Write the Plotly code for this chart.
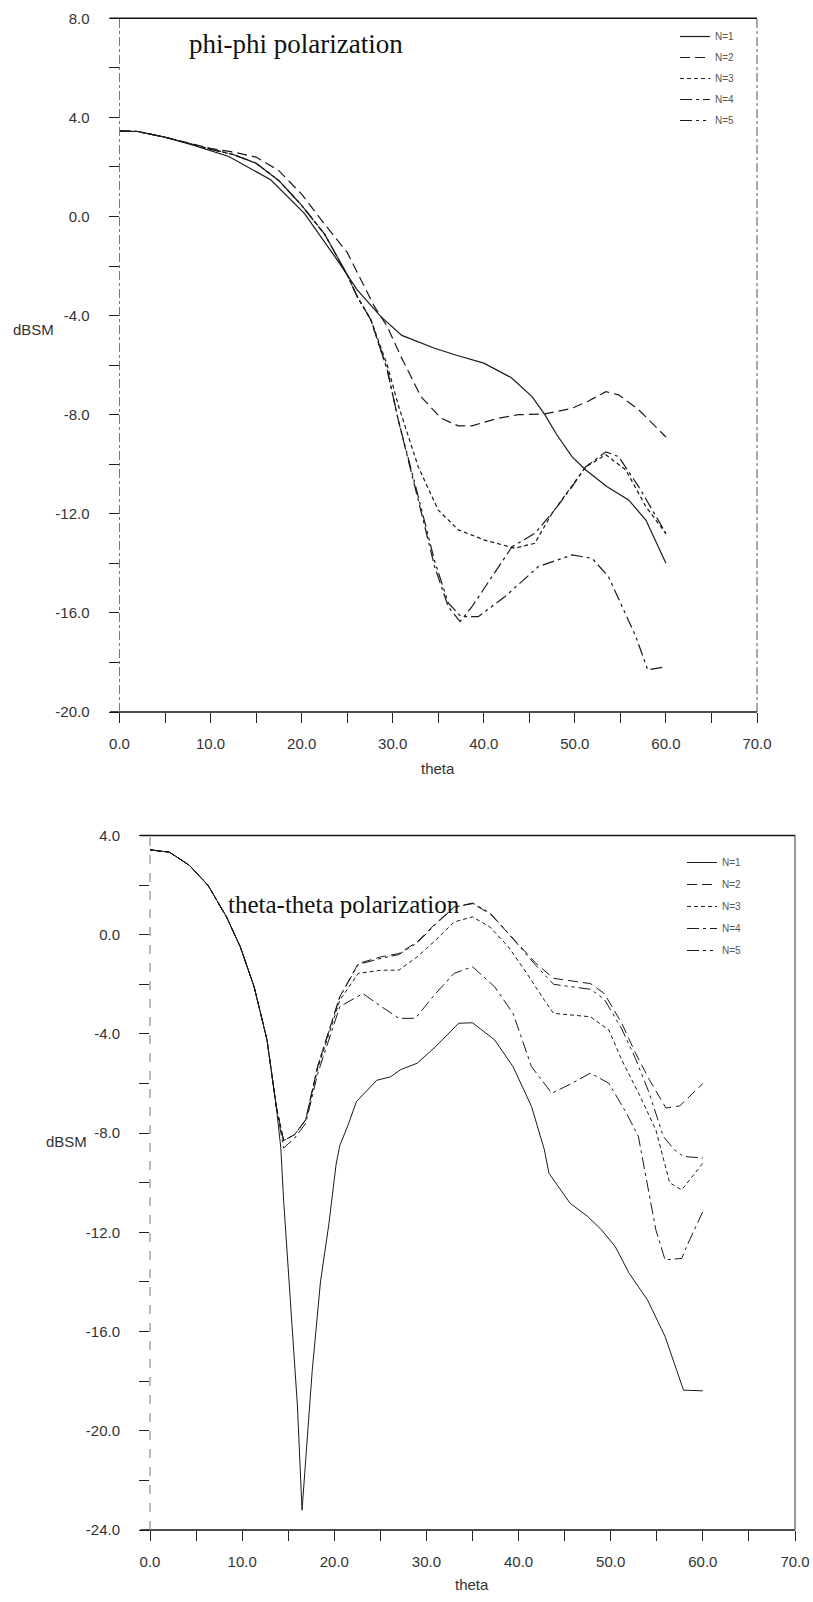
import plotly.graph_objects as go

# ---------------- data: phi-phi polarization (top) ----------------
top_n1_theta = [0, 2, 5, 8, 12, 16.6, 20.3, 23.9, 26.1, 28.7, 31, 34.6, 37, 40, 43, 45.3, 46.7, 48, 49.7, 51.2, 53.5, 55.9, 57.8, 60]
top_n1_val = [3.45, 3.43, 3.2, 2.89, 2.42, 1.48, 0.13, -1.75, -2.96, -4.04, -4.8, -5.32, -5.6, -5.92, -6.5, -7.27, -8.0, -8.8, -9.7, -10.23, -10.9, -11.44, -12.25, -14.0]

top_n2_theta = [0, 2, 5, 8, 10, 12.5, 15, 17.5, 20, 22.5, 25, 28, 29.4, 30.9, 33.1, 35.3, 37.2, 38.7, 41.6, 43.8, 46.7, 49.7, 51.5, 53.4, 54.8, 57, 60]
top_n2_val = [3.45, 3.43, 3.2, 2.92, 2.75, 2.6, 2.4, 1.85, 0.9, -0.3, -1.45, -3.64, -4.44, -5.65, -7.27, -8.14, -8.45, -8.45, -8.14, -8.0, -7.97, -7.74, -7.45, -7.07, -7.2, -7.8, -8.9]

top_n3_theta = [0, 2, 5, 8, 10, 12.5, 15, 17.5, 20, 22.5, 25, 26.1, 27.6, 29.4, 30.6, 32.8, 35, 37.2, 40.1, 43.4, 45.6, 47.5, 49.3, 51.2, 53.4, 55.6, 57.8, 60]
top_n3_val = [3.45, 3.43, 3.2, 2.9, 2.72, 2.5, 2.15, 1.45, 0.45, -0.7, -2.35, -3.23, -4.17, -6.0, -7.6, -10.1, -11.85, -12.65, -13.06, -13.39, -13.19, -11.98, -11.04, -10.1, -9.62, -10.23, -11.71, -12.8]

top_n4_theta = [0, 2, 5, 8, 10, 12.5, 15, 17.5, 20, 22.5, 25, 26.1, 27.6, 29.4, 30.6, 32.8, 34.6, 36.1, 37.4, 38.7, 40.9, 43.1, 45.6, 47.8, 49.7, 51.2, 53.4, 54.8, 57, 60]
top_n4_val = [3.45, 3.43, 3.2, 2.9, 2.72, 2.5, 2.15, 1.45, 0.45, -0.7, -2.35, -3.23, -4.17, -6.19, -8.2, -11.44, -14.13, -15.75, -16.35, -15.75, -14.54, -13.33, -12.79, -11.84, -10.9, -10.1, -9.5, -9.69, -10.9, -12.79]

top_n5_theta = [0, 2, 5, 8, 10, 12.5, 15, 17.5, 20, 22.5, 25, 26.1, 27.6, 29.4, 30.6, 32.8, 34.6, 36.1, 37.5, 39.4, 42.3, 46, 49.7, 51.9, 53.7, 55.2, 56.7, 58, 60]
top_n5_val = [3.45, 3.43, 3.2, 2.9, 2.72, 2.5, 2.15, 1.45, 0.45, -0.7, -2.35, -3.23, -4.17, -6.19, -8.2, -11.3, -13.9, -15.6, -16.15, -16.15, -15.35, -14.13, -13.66, -13.8, -14.54, -15.75, -16.96, -18.3, -18.17]

# ---------------- data: theta-theta polarization (bottom) ----------------
bot_n1_theta = [0, 2.1, 4.3, 6.3, 8.3, 9.8, 11.3, 12.7, 13.7, 14.2, 14.5, 15.2, 16.0, 16.5, 16.9, 17.6, 18.5, 19.4, 20.2, 20.6, 21.5, 22.4, 24.6, 26.1, 27.2, 29, 31, 33.5, 35, 37.4, 39.4, 41.4, 42.8, 43.3, 45.6, 47.5, 49, 50.5, 52, 54, 55.9, 57.9, 60]
bot_n1_val = [3.42, 3.33, 2.79, 1.99, 0.72, -0.49, -2.1, -4.24, -6.92, -8.6, -10.7, -14.7, -19.0, -23.2, -21.2, -17.6, -14.0, -11.7, -9.25, -8.5, -7.67, -6.73, -5.87, -5.73, -5.44, -5.18, -4.51, -3.57, -3.55, -4.24, -5.32, -6.92, -8.67, -9.62, -10.83, -11.36, -11.9, -12.58, -13.65, -14.73, -16.2, -18.36, -18.39]

bot_n2_theta = [0, 2.1, 4.3, 6.3, 8.3, 9.8, 11.3, 12.7, 13.7, 14.5, 15.7, 16.9, 18.2, 20.6, 22.6, 25.1, 27, 29, 31, 33, 35, 36.9, 38.9, 40.9, 41.9, 43.8, 47.8, 49.3, 51.2, 52.7, 54.2, 56, 57.5, 60]
bot_n2_val = [3.42, 3.33, 2.79, 1.99, 0.72, -0.49, -2.1, -4.24, -6.92, -8.3, -8.06, -7.46, -5.3, -2.5, -1.16, -0.89, -0.76, -0.29, 0.45, 1.12, 1.25, 0.85, 0.05, -0.76, -1.16, -1.76, -1.97, -2.37, -3.57, -4.78, -5.85, -6.99, -6.9, -6.0]

bot_n3_theta = [0, 2.1, 4.3, 6.3, 8.3, 9.8, 11.3, 12.7, 13.7, 14.5, 15.7, 16.9, 18.2, 20.6, 22.6, 25.1, 27, 29, 31, 33, 35, 36.9, 38.9, 40.9, 42.8, 43.8, 47.8, 49.8, 51.2, 53.2, 54.9, 56.4, 57.7, 60]
bot_n3_val = [3.42, 3.33, 2.79, 1.99, 0.72, -0.49, -2.1, -4.24, -6.92, -8.3, -8.06, -7.46, -5.4, -2.64, -1.56, -1.43, -1.43, -0.89, -0.22, 0.51, 0.72, 0.31, -0.49, -1.56, -2.64, -3.17, -3.31, -3.84, -5.05, -6.52, -7.87, -10.0, -10.29, -9.21]

bot_n4_theta = [0, 2.1, 4.3, 6.3, 8.3, 9.8, 11.3, 12.7, 13.7, 14.5, 15.7, 16.9, 18.2, 20.6, 23.1, 24.6, 27, 28.8, 31, 33, 35, 37.4, 39.4, 41.4, 43.6, 45.8, 47.8, 49.8, 51.7, 53, 54.9, 55.9, 57.7, 58.4, 60]
bot_n4_val = [3.42, 3.33, 2.79, 1.99, 0.72, -0.49, -2.1, -4.24, -6.92, -8.6, -8.2, -7.6, -5.6, -2.9, -2.37, -2.77, -3.37, -3.37, -2.37, -1.56, -1.29, -2.1, -3.17, -5.32, -6.39, -5.99, -5.58, -5.99, -7.19, -8.13, -11.9, -13.11, -13.05, -12.44, -11.16]

bot_n5_theta = [0, 2.1, 4.3, 6.3, 8.3, 9.8, 11.3, 12.7, 13.7, 14.5, 15.7, 16.9, 18.2, 20.6, 22.6, 25.1, 27, 29, 31, 33, 35, 36.9, 38.9, 40.9, 41.9, 43.8, 47.8, 49.3, 51.2, 52.7, 54.2, 55.7, 56.9, 57.9, 60]
bot_n5_val = [3.42, 3.33, 2.79, 1.99, 0.72, -0.49, -2.1, -4.24, -6.92, -8.3, -8.06, -7.46, -5.3, -2.5, -1.2, -0.95, -0.8, -0.33, 0.42, 1.1, 1.28, 0.88, 0.05, -0.8, -1.25, -2.0, -2.2, -2.6, -3.8, -5.0, -6.4, -8.13, -8.67, -8.94, -9.0]

series_names = ["N=1", "N=2", "N=3", "N=4", "N=5"]
x_ticks = [0, 5, 10, 15, 20, 25, 30, 35, 40, 45, 50, 55, 60, 65, 70]
top_y_ticks = [8, 6, 4, 2, 0, -2, -4, -6, -8, -10, -12, -14, -16, -18, -20]
bot_y_ticks = [4, 2, 0, -2, -4, -6, -8, -10, -12, -14, -16, -18, -20, -22, -24]

dashes = ["solid", "10px,5px", "4px,3px", "12px,4px,3px,4px", "12px,4px,3px,4px,3px,4px"]
line_color = "#1a1a1a"

top_sets = [(top_n1_theta, top_n1_val), (top_n2_theta, top_n2_val), (top_n3_theta, top_n3_val),
            (top_n4_theta, top_n4_val), (top_n5_theta, top_n5_val)]
bot_sets = [(bot_n1_theta, bot_n1_val), (bot_n2_theta, bot_n2_val), (bot_n3_theta, bot_n3_val),
            (bot_n4_theta, bot_n4_val), (bot_n5_theta, bot_n5_val)]

fig = go.Figure()
for i, (tx, ty) in enumerate(top_sets):
    fig.add_trace(go.Scatter(x=tx, y=ty, mode="lines", name=series_names[i],
                             line=dict(color=line_color, width=1.2, dash=dashes[i]),
                             xaxis="x", yaxis="y", legend="legend", legendgroup="t%d" % i))
for i, (tx, ty) in enumerate(bot_sets):
    fig.add_trace(go.Scatter(x=tx, y=ty, mode="lines", name=series_names[i],
                             line=dict(color=line_color, width=1.0, dash=dashes[i]),
                             xaxis="x2", yaxis="y2", legend="legend2", legendgroup="b%d" % i))

W, H = 813, 1602
top_px = dict(x0=119.5, x1=757, y0=18.3, y1=712)
bot_px = dict(x0=150, x1=795, y0=835.5, y1=1530)

def xdom(p):
    return [p["x0"] / W, p["x1"] / W]

def ydom(p):
    return [1 - p["y1"] / H, 1 - p["y0"] / H]

tick_font = dict(family="Liberation Sans, Arial, sans-serif", size=15, color="#333333")

def fmt_labels(vals, step):
    return [("%.1f" % v) if (v % step == 0) else "" for v in vals]

common_axis = dict(showgrid=False, zeroline=False, showline=False, ticks="outside",
                   ticklen=10, tickwidth=1, tickcolor="#222", tickfont=tick_font,
                   automargin=False, fixedrange=True, ticklabeloverflow="allow")

fig.update_layout(
    width=W, height=H, margin=dict(l=0, r=0, t=0, b=0),
    paper_bgcolor="white", plot_bgcolor="white", showlegend=True,
    xaxis=dict(domain=xdom(top_px), anchor="y", range=[0, 70], tickmode="array",
               tickvals=x_ticks, ticktext=fmt_labels(x_ticks, 10), ticklabelstandoff=8, **common_axis),
    yaxis=dict(domain=ydom(top_px), anchor="x", range=[-20, 8], tickmode="array",
               tickvals=top_y_ticks, ticktext=fmt_labels(top_y_ticks, 4), ticklabelstandoff=16, **common_axis),
    xaxis2=dict(domain=xdom(bot_px), anchor="y2", range=[0, 70], tickmode="array",
                tickvals=x_ticks, ticktext=fmt_labels(x_ticks, 10), ticklabelstandoff=8, **common_axis),
    yaxis2=dict(domain=ydom(bot_px), anchor="x2", range=[-24, 4], tickmode="array",
                tickvals=bot_y_ticks, ticktext=fmt_labels(bot_y_ticks, 4), ticklabelstandoff=16, **common_axis),
    legend=dict(x=675 / W, y=1 - 22 / H, xanchor="left", yanchor="top", bgcolor="rgba(0,0,0,0)",
                font=dict(family="Liberation Sans, Arial, sans-serif", size=10, color="#555"),
                tracegroupgap=2, itemwidth=30),
    legend2=dict(x=682 / W, y=1 - 848 / H, xanchor="left", yanchor="top", bgcolor="rgba(0,0,0,0)",
                 font=dict(family="Liberation Sans, Arial, sans-serif", size=10, color="#555"),
                 tracegroupgap=3, itemwidth=30),
)

shapes = []
def frame(xr, yr, left_dash, right_dash, right_color):
    d = "%s domain" % xr
    e = "%s domain" % yr
    shapes.append(dict(type="line", xref=d, yref=e, x0=-0.015, x1=1, y0=1, y1=1,
                       line=dict(color="#111", width=1.6)))
    shapes.append(dict(type="line", xref=d, yref=e, x0=-0.015, x1=1, y0=0, y1=0,
                       line=dict(color="#111", width=1.6)))
    shapes.append(dict(type="line", xref=d, yref=e, x0=0, x1=0, y0=0, y1=1,
                       line=dict(color="#777", width=1, dash=left_dash)))
    shapes.append(dict(type="line", xref=d, yref=e, x0=1, x1=1, y0=0, y1=1,
                       line=dict(color=right_color, width=1, dash=right_dash)))

frame("x", "y", "dashdot", "dashdot", "#555")
frame("x2", "y2", "dash", "solid", "#333")
fig.update_layout(shapes=shapes)

label_font = dict(family="Liberation Sans, Arial, sans-serif", size=15, color="#333")
annotations = [
    dict(text="phi-phi polarization", xref="paper", yref="paper", x=296 / W, y=1 - 44 / H,
         xanchor="center", yanchor="middle", showarrow=False,
         font=dict(family="Liberation Serif, Times New Roman, serif", size=27, color="#111")),
    dict(text="theta-theta polarization", xref="paper", yref="paper", x=344 / W, y=1 - 904 / H,
         xanchor="center", yanchor="middle", showarrow=False,
         font=dict(family="Liberation Serif, Times New Roman, serif", size=25, color="#111")),
    dict(text="dBSM", xref="paper", yref="y", x=33 / W, y=-4.55, xanchor="center", yanchor="middle",
         showarrow=False, font=label_font),
    dict(text="dBSM", xref="paper", yref="y2", x=66 / W, y=-8.35, xanchor="center", yanchor="middle",
         showarrow=False, font=label_font),
    dict(text="theta", xref="x domain", yref="y domain", x=0.5, y=-0.081, xanchor="center",
         yanchor="middle", showarrow=False, font=label_font),
    dict(text="theta", xref="x2 domain", yref="y2 domain", x=0.5, y=-0.079, xanchor="center",
         yanchor="middle", showarrow=False, font=label_font),
]
fig.update_layout(annotations=annotations)

fig.write_html("out.html")
